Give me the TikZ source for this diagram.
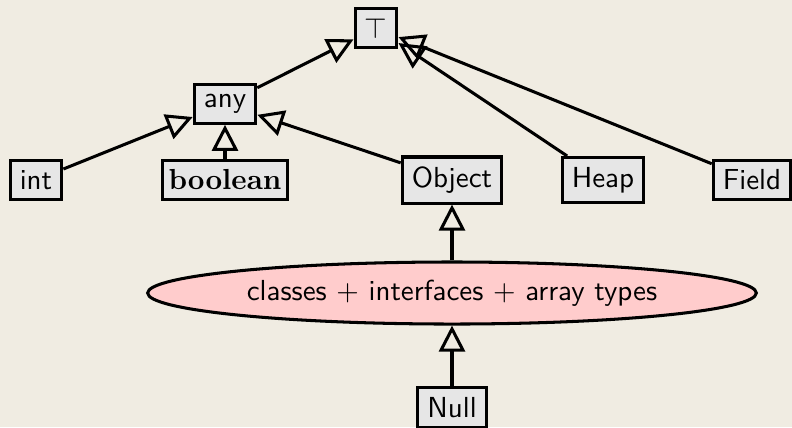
\documentclass[tikz,border=0pt]{standalone}
\usepackage{amssymb}
\usepackage{tikz}
\usetikzlibrary{positioning,backgrounds,arrows.meta,shapes.geometric}
\definecolor{parchemin}{RGB}{240,236,226}
\definecolor{grisclair}{RGB}{230,230,230}
\definecolor{rosepale}{RGB}{255,204,204}

\begin{document}
\begin{tikzpicture}[x=0.345pt,y=-0.345pt]
                \tikzset{
                  boite type/.style={
                    fill=grisclair,draw,line width=1.05pt,
                    font=\sffamily,text=black,
                  },
                  boite classes/.style={boite type,ellipse,fill=rosepale,
                    minimum width=210pt,minimum height=21.4pt,inner sep=1pt,
                  },
                  fleche/.style={
                    line width=1.05pt,-{Triangle[open,length=9pt,width=9pt]},
                    draw=black,
                  },
                  }
                \useasboundingbox (0,0) rectangle (792,427);
                \node[boite type] (top) at (376,28) {$\top$};
                \node[boite type] (any) at (225,104) {any};
                \node[boite type] (int) at (36,180) {int};
                \node[boite type, inner xsep=2pt] (boolean) at (225,180) {\rmfamily\bfseries boolean};
                \node[boite type] (object) at (452,180) {Object};
                \node[boite type] (heap) at (603,180) {Heap};
                \node[boite type] (field) at (752,180) {Field};
                \node[boite classes] (classes) at (452,293) {classes $+$ interfaces $+$ array types};
                \node[boite type] (null) at (452,407.5) {Null};

                \begin{scope}[on background layer]
                    \fill[parchemin] (0,0) rectangle (792,427);
                    \draw[fleche] (any) -- (top);
                    \draw[fleche] (heap) -- (top);
                    \draw[fleche] (field) -- (top);
                    \draw[fleche] (int) -- (any);
                    \draw[fleche] (boolean) -- (any);
                    \draw[fleche] (object) -- (any);
                    \draw[fleche] (classes) -- (object);
                    \draw[fleche] (null) -- (classes);
                \end{scope}
              \end{tikzpicture}
\end{document}
